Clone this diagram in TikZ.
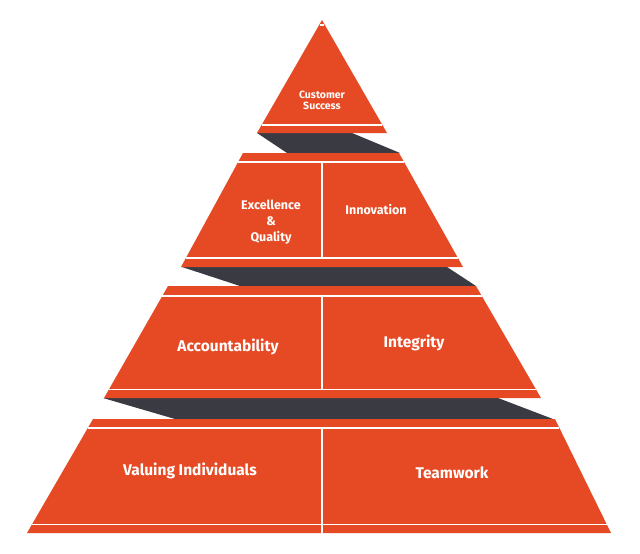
\documentclass[tikz,border=0pt]{standalone}
\usepackage{fontspec}
\setmainfont{Fira Sans}
\usetikzlibrary{calc}
\definecolor{org}{HTML}{E64A24}
\definecolor{drk}{HTML}{3A3A43}
\tikzset{
  tier/.style={fill=org,draw=none},
  band/.style={fill=drk,draw=none},
  wline/.style={draw=white,line width=1.6pt},
  lbl/.style={text=white,font=\bfseries,align=center,inner sep=0pt}
}
\begin{document}
\begin{tikzpicture}[x=1pt,y=-1pt]
\useasboundingbox (0,0) rectangle (640,554);
% dark bands
\fill[band] (257,133) -- (352,133) -- (400,153) -- (287,153) -- cycle;
\fill[band] (182,267) -- (447,267) -- (476,286) -- (240,286) -- cycle;
\fill[band] (103,398) -- (498,398) -- (553,419) -- (175,419) -- cycle;
% tier 1
\fill[tier] (322,20) -- (387,133) -- (257,133) -- cycle;
\draw[wline] (319.7,25) -- (324.3,25);
\draw[wline] (262,125) -- (382,125);
% tier 2
\coordinate (t2a) at (243,153); \coordinate (t2b) at (399,153);
\coordinate (t2c) at (463,267); \coordinate (t2d) at (181,267);
\fill[tier] (t2a) -- (t2b) -- (t2c) -- (t2d) -- cycle;
\draw[wline] ($(t2a)!0.08!(t2d)$) -- ($(t2b)!0.08!(t2c)$);
\draw[wline] ($(t2a)!0.92!(t2d)$) -- ($(t2b)!0.92!(t2c)$);
\draw[white,line width=1.2pt] (322,162) -- (322,258);
% tier 3
\coordinate (t3a) at (168,286); \coordinate (t3b) at (476,286);
\coordinate (t3c) at (541,398); \coordinate (t3d) at (104,398);
\fill[tier] (t3a) -- (t3b) -- (t3c) -- (t3d) -- cycle;
\draw[wline] ($(t3a)!0.09!(t3d)$) -- ($(t3b)!0.09!(t3c)$);
\draw[wline] ($(t3a)!0.925!(t3d)$) -- ($(t3b)!0.925!(t3c)$);
\draw[white,line width=1.2pt] (322,296) -- (322,390);
% tier 4
\coordinate (t4a) at (93,419); \coordinate (t4b) at (555,419);
\coordinate (t4c) at (611,533); \coordinate (t4d) at (27,533);
\fill[tier] (t4a) -- (t4b) -- (t4c) -- (t4d) -- cycle;
\draw[wline] ($(t4a)!0.08!(t4d)$) -- ($(t4b)!0.08!(t4c)$);
\draw[wline] ($(t4a)!0.925!(t4d)$) -- ($(t4b)!0.925!(t4c)$);
\draw[white,line width=1.2pt] (322,428) -- (322,533);
% labels
\node[lbl,font=\bfseries\fontsize{10.5}{11}\selectfont] (cs) at (322,100) {Customer\\Success};
\node[lbl,font=\bfseries\fontsize{12.5}{16}\selectfont] (eq) at (271,222) {Excellence\\\&\\Quality};
\node[lbl,font=\bfseries\fontsize{12.5}{15}\selectfont] (in) at (376,210) {Innovation};
\node[lbl,font=\bfseries\fontsize{15.5}{18}\selectfont] (ac) at (228,347) {Accountability};
\node[lbl,font=\bfseries\fontsize{15.5}{18}\selectfont] (ig) at (414,343) {Integrity};
\node[lbl,font=\bfseries\fontsize{15.5}{18}\selectfont] (vi) at (190,471) {Valuing Individuals};
\node[lbl,font=\bfseries\fontsize{15.5}{18}\selectfont] (tw) at (452,473) {Teamwork};
\end{tikzpicture}
\end{document}
